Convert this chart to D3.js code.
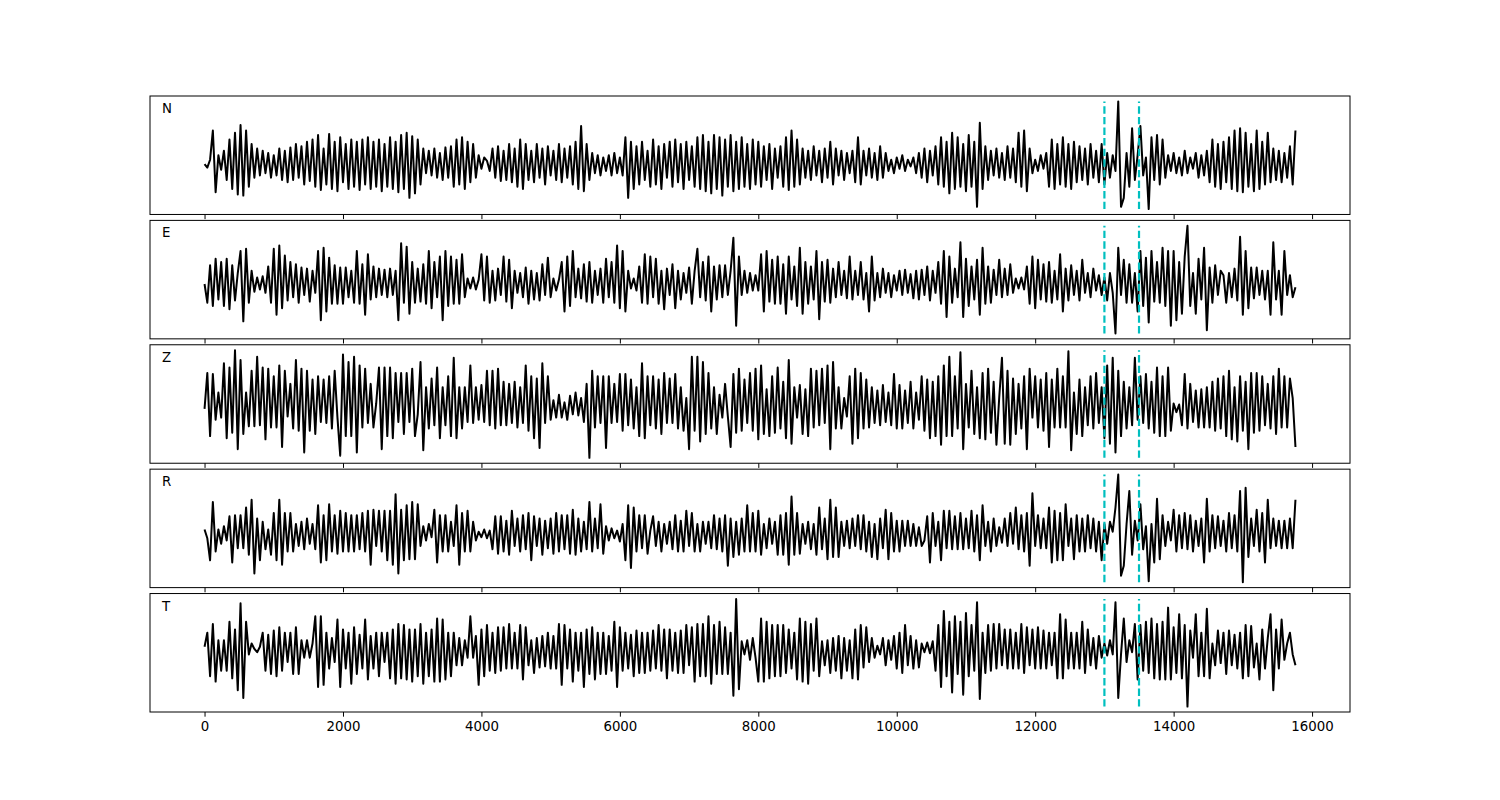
<!DOCTYPE html>
<html><head><meta charset="utf-8">
<script src="https://cdn.jsdelivr.net/npm/d3@7"></script>
<style>body{margin:0;background:#fff;} svg{display:block;}</style>
</head><body>
<svg id="chart" width="1500" height="800"></svg>
<script>
const channelNames = ["N", "E", "Z", "R", "T"];
const traceN = [
0,-3,4,30,-25,8,-5,12,-14,22,
-22,28,-27,35,-28,30,-20,18,-12,14,
-10,12,-8,10,-12,8,-10,14,-14,12,
-16,15,-14,18,-12,16,-18,20,-15,22,
-20,26,-23,14,-18,27,-22,20,-24,24,
-16,18,-22,22,-20,20,-23,22,-18,24,
-22,20,-20,22,-24,18,-20,24,-22,20,
-25,26,-22,28,-30,25,-26,22,-18,14,
-8,12,-10,14,-12,10,-14,15,-12,16,
-20,22,-18,24,-22,20,-16,18,-12,8,
-4,6,3,-6,14,-12,16,-15,12,-14,
18,-16,14,-20,22,-22,18,-14,12,-16,
18,-12,14,-18,16,-10,12,-14,18,-16,
14,-12,16,-18,20,-22,34,-24,18,-14,
10,-8,8,-10,6,-6,8,-10,10,-8,
6,-10,24,-30,20,-22,16,-18,20,-14,
12,-20,22,-18,16,-22,18,-12,20,-20,
22,-16,18,-22,20,-14,16,-20,24,-22,
26,-24,20,-26,26,-22,24,-28,22,-20,
26,-24,20,-22,24,-20,18,-22,22,-18,
20,-20,16,-14,18,-22,14,-12,16,-20,
24,-23,30,-20,22,-18,14,-12,12,-14,
16,-10,12,-16,14,-12,20,-18,14,-10,
12,-14,10,-8,12,-16,24,-18,12,-10,
14,-12,10,-14,16,-12,10,-6,4,-8,
6,-4,8,-6,4,-2,6,-8,10,-12,
14,-16,12,-10,16,-18,24,-20,20,-26,
28,-22,24,-20,18,-24,26,-20,20,-38,
37,-22,16,-14,12,-10,14,-12,10,-14,
16,-12,14,-16,28,-20,30,-24,14,-8,
4,-6,8,-4,10,-20,22,-22,18,-18,
24,-20,18,-22,20,-16,16,-14,14,-18,
18,-12,12,-16,18,-18,10,-12,8,-6,
56,-38,-30,10,-20,32,-14,8,34,-10,
6,-40,24,-14,26,-18,22,-12,8,-6,
10,-8,6,-10,12,-8,6,-4,10,-12,
8,-10,12,-16,22,-20,18,-22,20,-16,
24,-22,30,-24,32,-25,28,-20,18,-24,
30,-22,20,-18,28,-16,14,-14,12,-16,
10,-12,16,-18,30
];
const traceE = [
0,-17,17,-20,23,-14,20,-20,23,-23,
17,-15,10,30,-34,32,-17,12,-7,6,
-5,7,-8,16,-17,32,-28,35,-22,26,
-15,20,-12,18,-17,15,-10,14,-16,12,
-8,30,-33,33,-25,24,-18,17,-18,15,
-18,15,-12,12,-17,30,-18,18,-28,27,
-14,16,-12,14,-10,13,-12,14,-10,12,
-33,37,-17,34,-27,20,-17,14,-16,18,
-18,30,-22,20,-12,25,-33,30,-20,25,
-18,22,-18,27,-12,5,-4,6,-5,4,
27,-15,25,-17,12,-15,14,-10,25,-16,
22,-22,12,-8,10,-12,15,-18,12,-14,
10,-15,18,-10,24,-12,5,-6,4,20,
-25,25,-20,30,-12,14,-13,18,-16,20,
-17,12,-10,14,-17,23,-12,20,-17,35,
-22,30,-25,12,-4,5,-6,16,-17,27,
-18,25,-12,23,-18,12,-23,14,-10,18,
-22,12,-14,10,-8,15,-18,12,32,-12,
20,-15,25,-25,16,-14,17,-12,17,-10,
12,42,-38,25,-10,12,-8,10,-6,8,
-6,27,-25,30,-16,22,-18,25,-18,18,
-27,25,-14,16,-20,33,-27,20,-18,16,
-14,30,-32,20,-16,22,-17,14,-12,20,
-10,12,-13,25,-14,12,-10,20,-14,10,
-25,25,-15,10,-12,14,-8,10,-12,8,
-6,12,-10,13,-8,9,-13,12,-14,13,
-10,16,-15,12,-8,20,-18,30,-30,25,
-17,14,-12,38,-30,23,-20,16,-14,22,
-28,33,-18,16,-17,13,-10,22,-12,14,
-10,18,-8,5,-4,6,-5,16,-18,25,
-22,22,-14,18,-16,20,-17,12,-14,27,
-25,14,-15,17,-10,12,-15,22,-8,10,
-12,14,-6,8,-10,6,-15,10,-8,-45,
33,-10,22,-17,18,-17,10,-25,30,-20,
24,-35,30,-16,20,-17,33,-20,30,-38,
30,-33,20,-27,25,53,-20,10,-27,23,
-14,33,-42,15,-17,17,-10,12,8,-17,
10,-12,14,-15,43,-28,30,-22,15,-13,
15,-10,12,-14,12,-28,38,-14,12,-28,
30,-10,8,-12,-3
];
const traceZ = [
0,33,-25,32,-10,15,-8,42,-27,38,
-22,54,-37,45,-23,15,-16,35,-16,48,
-15,38,-28,37,-17,30,-17,40,-35,35,
-7,23,-18,45,-20,37,-40,35,-20,27,
-23,30,-12,27,-13,30,-18,35,-8,-43,
50,-25,43,-25,48,-40,40,-17,37,-13,
23,-17,5,38,-37,38,-25,38,-27,33,
-12,33,-23,33,-12,37,-25,-5,43,-38,
20,-18,28,-15,38,-27,20,-15,30,-25,
47,-27,20,-18,20,-12,40,-13,20,-10,
22,-12,35,-15,35,-18,37,-15,25,-15,
23,-13,25,-17,20,-13,40,-20,30,-27,
28,-36,42,-13,30,-10,8,-8,13,-8,
6,-10,12,-5,15,-6,10,-12,23,-45,
35,-17,30,-13,30,-36,30,-13,23,-12,
32,-20,32,-15,27,-18,20,-25,42,-27,
30,-15,30,-18,27,-23,33,-13,28,-13,
32,-18,20,-20,10,-37,48,-20,48,-30,
43,-23,33,-18,20,-23,13,-8,23,-7,
-35,32,-22,37,-20,27,-13,33,-20,37,
-28,40,-23,18,-25,30,-22,38,-18,25,
-27,45,-32,20,-8,22,-23,18,-25,37,
-17,35,-15,37,-13,40,-37,43,-18,20,
-18,10,-7,30,-32,37,-27,33,-18,27,
-17,20,-13,17,-15,22,-12,15,-15,32,
-18,22,-18,17,-13,25,-18,15,-10,30,
-20,27,-27,25,-25,30,-33,40,-25,48,
-25,30,-18,52,-37,23,-17,35,-23,20,
-27,33,-28,37,-22,25,-33,10,47,-32,
35,-33,28,-23,23,-18,30,-37,37,-8,
30,-17,27,-20,33,-35,27,-17,37,-17,
30,-17,53,-38,15,-23,27,-25,20,-15,
30,-18,33,-13,20,-27,40,-32,47,-40,
35,-25,25,-18,20,-15,47,-10,30,-13,
32,-18,25,-22,38,-25,30,-25,38,-20,
5,-3,4,-15,32,-18,23,-12,17,-17,
18,-17,20,-17,25,-20,28,-18,30,-25,
35,-28,20,-30,30,-20,25,-37,33,-22,
33,-20,30,-15,23,-18,30,-23,37,-17,
30,-17,28,10,-35
];
const traceR = [
5,-3,-23,30,-15,5,-8,8,-5,17,
-25,18,-12,18,-12,25,-18,32,-35,15,
-23,12,-13,5,-18,20,-23,32,-27,20,
-15,20,-15,10,-10,12,-13,15,-8,10,
-13,27,-25,18,-23,28,-15,18,-17,22,
-15,20,-15,18,-15,18,-13,20,-15,22,
-27,23,-10,22,-15,22,-23,22,-27,37,
-35,23,-23,27,-22,30,-22,28,-10,8,
-5,10,-2,23,-25,18,-15,18,-15,12,
-10,27,-27,20,-15,22,-15,12,-5,3,
-2,5,-3,4,-13,17,-17,17,-15,13,
-18,22,-10,15,-15,18,-13,20,-23,17,
-10,15,-18,13,-12,15,-17,20,-15,18,
-13,18,-17,23,-18,15,-15,12,-13,30,
-15,15,-12,28,-17,8,-5,6,-3,4,
-6,10,-23,27,-30,25,-15,18,-12,18,
-17,4,17,-10,12,-15,10,-8,12,-13,
18,-15,13,-15,22,-10,20,-15,10,-15,
12,-8,12,-12,18,-13,15,-15,18,-28,
15,-20,12,-18,15,-15,27,-15,20,-15,
22,-18,10,-12,15,-8,12,-18,18,-18,
20,-27,35,-18,20,-17,10,-8,12,-13,
10,-18,25,-13,15,-22,32,-20,25,-20,
12,-10,13,-12,15,-10,18,-13,18,-15,
12,-20,10,-22,15,-12,23,-22,20,-15,
13,-15,13,-10,13,-10,10,-10,7,-10,
-5,17,-25,20,-10,12,-23,22,-12,22,
-13,17,-13,20,-13,15,-12,22,-15,18,
-23,27,-10,12,-15,15,-10,7,-7,15,
-10,20,-8,25,-13,18,-15,20,-28,38,
-10,18,-12,15,-12,25,-25,22,-23,20,
-23,28,-10,15,-22,18,-15,15,-15,18,
-12,15,-15,12,-23,10,-8,12,3,25,
55,-37,-28,10,40,-18,13,-5,28,-13,
8,-42,10,-25,33,-22,18,-10,12,-5,
23,-15,18,-12,20,-13,18,-15,13,-10,
15,-25,33,-15,18,-12,17,-10,13,-15,
20,-12,18,-15,40,-43,43,-20,15,-10,
23,-15,20,-25,32,-12,15,-10,13,-12,
13,-12,15,-12,32
];
const traceT = [
2,15,-25,23,-30,8,-20,8,-20,25,
-27,18,-38,42,-45,25,-5,5,0,-3,
2,15,-20,13,-23,17,-25,20,-20,15,
-12,15,-23,20,-23,8,-8,8,-8,5,
30,-35,30,-33,15,-18,10,-12,27,-35,
18,-18,15,-32,20,-23,13,-18,27,-28,
12,-18,15,-25,15,-12,15,-27,18,-32,
23,-27,22,-28,18,-30,18,-25,23,-32,
15,-25,18,-30,28,-30,27,-28,15,-25,
15,-15,10,-15,8,-8,30,-8,12,-33,
18,-25,22,-20,15,-22,20,-20,20,-18,
23,-18,15,-18,22,-28,20,-15,8,-22,
10,-17,12,-16,15,-18,12,-18,23,-33,
22,-18,18,-30,15,-20,15,-35,18,-23,
20,-28,15,-23,15,-23,12,-20,25,-35,
20,-20,15,-18,13,-25,17,-22,15,-22,
15,-20,17,-18,22,-20,18,-27,18,-20,
15,-22,17,-22,22,-15,20,-30,23,-25,
23,-25,30,-32,22,-23,25,-23,20,-23,
15,-43,46,-37,7,-5,8,-10,10,-8,
-30,28,-30,25,-27,22,-25,22,-25,22,
-22,18,-18,15,-28,28,-30,25,-32,23,
-20,28,-25,7,-15,8,-22,10,-20,12,
-27,10,-20,8,-27,18,-28,22,-17,20,
-12,10,-8,3,-5,10,-15,8,-10,12,
-18,15,-22,22,-15,12,-18,8,-17,5,
-3,6,-4,7,-20,22,-35,35,-25,25,
-40,30,-23,25,-42,33,-25,22,-20,43,
-46,15,-22,22,-20,23,-18,23,-15,18,
-18,18,-18,15,-18,23,-22,20,-15,18,
-18,20,-18,17,-18,15,-15,15,-27,32,
-27,27,-18,15,-18,15,-18,25,-22,18,
-15,10,-18,12,-8,5,-6,8,-5,43,
-45,-5,28,-12,8,-3,23,-28,22,-20,
25,-22,28,-27,23,-28,25,-28,38,-28,
20,-22,32,-27,22,-53,17,-8,32,-25,
15,-25,37,-27,5,-15,17,-13,15,-23,
17,-15,13,-18,15,-27,22,-25,21,-17,
5,-28,18,-18,10,32,-38,18,-18,27,
-10,5,15,-5,-15
];
const duration = 15760;
const pickTimes = [13000, 13500];
const xTickValues = [0, 2000, 4000, 6000, 8000, 10000, 12000, 14000, 16000];

(function () {
  const traces = [traceN, traceE, traceZ, traceR, traceT];
  const W = 1500, H = 800;
  const svg = d3.select("#chart");
  const axLeft = 0.1 * W, axRight = 0.9 * W, axTop = 0.12 * H, axBottom = 0.89 * H;
  const nP = traces.length, hspace = 0.05;
  const ph = (axBottom - axTop) / (nP + (nP - 1) * hspace);
  const gap = ph * hspace;
  const x = d3.scaleLinear().domain([-0.05 * duration, 1.05 * duration]).range([axLeft, axRight]);
  const font = "DejaVu Sans, sans-serif";

  traces.forEach((vals, k) => {
    const y0 = axTop + k * (ph + gap), y1 = y0 + ph;
    const [mn, mx] = d3.extent(vals);
    const pad = 0.05 * (mx - mn);
    const y = d3.scaleLinear().domain([mn - pad, mx + pad]).range([y1, y0]);
    const t = i => i * duration / (vals.length - 1);
    const g = svg.append("g");
    g.append("path").datum(vals)
      .attr("d", d3.line().x((d, i) => x(t(i))).y(d => y(d)).curve(d3.curveLinear))
      .attr("fill", "none").attr("stroke", "#000").attr("stroke-width", 2)
      .attr("stroke-linejoin", "round");
    pickTimes.forEach(p => {
      g.append("line").attr("x1", x(p)).attr("x2", x(p))
        .attr("y1", y(mn)).attr("y2", y(mx))
        .attr("stroke", "#00bfbf").attr("stroke-width", 2.2)
        .attr("stroke-dasharray", "7.4,3.2");
    });
    g.append("rect").attr("x", axLeft).attr("y", y0).attr("width", axRight - axLeft).attr("height", ph)
      .attr("fill", "none").attr("stroke", "#000").attr("stroke-width", 1);
    const axis = d3.axisBottom(x).tickValues(xTickValues).tickSize(4.67).tickPadding(4.67)
      .tickFormat(k === nP - 1 ? d3.format("d") : () => "");
    const ag = svg.append("g").attr("transform", `translate(0,${y1})`).call(axis);
    ag.select(".domain").remove();
    ag.selectAll("line").attr("stroke", "#000").attr("stroke-width", 1);
    ag.selectAll("text").attr("font-family", font).attr("font-size", 13.33).attr("fill", "#000");
    svg.append("text").attr("x", axLeft + 12).attr("y", y0 + 17)
      .attr("font-family", font).attr("font-size", 13.33).attr("fill", "#000")
      .text(channelNames[k]);
  });
})();
</script>
</body></html>
